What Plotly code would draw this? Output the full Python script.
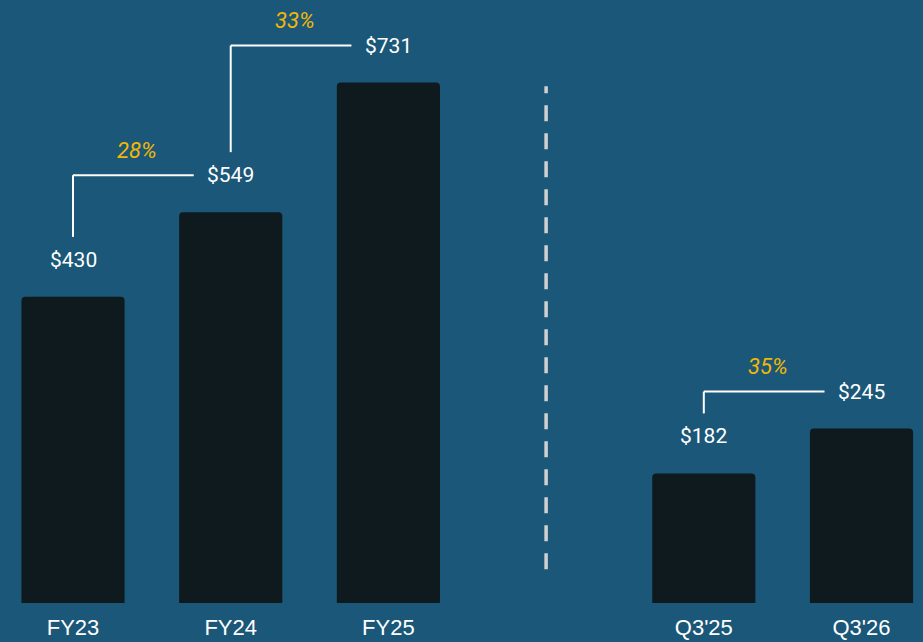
import plotly.graph_objects as go

# ---- data ----
categories = ["FY23", "FY24", "FY25", "Q3'25", "Q3'26"]
positions = [0, 1, 2, 4, 5]          # slot 3 is the gap holding the divider
values = [430, 549, 731, 182, 245]
value_labels = ["$430", "$549", "$731", "$182", "$245"]
growth_pairs = [(0, 1), (1, 2), (3, 4)]   # indices into the lists above
growth_labels = ["28%", "33%", "35%"]

# ---- layout constants ----
W, H = 923, 642
M_L, M_R, M_T, M_B = 0, 0, 0, 39
X_RANGE = [-0.463, 5.39]
Y_RANGE = [0, 847]
BG = "#1a5778"
BAR = "#0f1a1f"
GOLD = "#f2b705"

plot_w = W - M_L - M_R
plot_h = H - M_T - M_B
px_x = plot_w / (X_RANGE[1] - X_RANGE[0])   # px per category unit
px_y = plot_h / (Y_RANGE[1] - Y_RANGE[0])   # px per value unit


def dx(p):
    return p / px_x


def dy(p):
    return p / px_y


fig = go.Figure()
fig.add_trace(go.Bar(
    x=positions, y=values, width=0.654,
    marker=dict(color=BAR, line=dict(width=0), cornerradius=4),
    hoverinfo="skip",
))

annotations = []
shapes = []

LABEL_OFF = 37
for p, v, t in zip(positions, values, value_labels):
    annotations.append(dict(
        x=p, y=v + dy(LABEL_OFF), text=t, showarrow=False,
        xanchor="center", yanchor="middle",
        font=dict(family="Roboto", size=21, color="white"),
    ))

for (a, b), g in zip(growth_pairs, growth_labels):
    xa, xb = positions[a], positions[b]
    y0 = values[a] + dy(60)
    y1 = values[b] + dy(LABEL_OFF)
    xend = xb - dx(37)
    line = dict(color="white", width=2)
    shapes.append(dict(type="line", xref="x", yref="y", x0=xa, x1=xa,
                       y0=y0, y1=y1, line=line))
    shapes.append(dict(type="line", xref="x", yref="y", x0=xa, x1=xend,
                       y0=y1, y1=y1, line=line))
    annotations.append(dict(
        x=(xa + xend) / 2 + dx(4), y=y1 + dy(25), text="<i>" + g + "</i>",
        showarrow=False, xanchor="center", yanchor="middle",
        font=dict(family="Roboto", size=22, color=GOLD),
    ))

# divider between annual and quarterly groups
shapes.append(dict(type="line", xref="x", yref="paper", x0=3, x1=3,
                   y0=0.056, y1=0.857,
                   line=dict(color="#d0d0d0", width=3.5, dash="16px,12px")))

fig.update_layout(
    width=W, height=H,
    margin=dict(l=M_L, r=M_R, t=M_T, b=M_B, pad=0),
    paper_bgcolor=BG, plot_bgcolor=BG,
    showlegend=False,
    annotations=annotations,
    shapes=shapes,
    xaxis=dict(range=X_RANGE, tickvals=positions, ticktext=categories,
               showgrid=False, zeroline=False, showline=False, ticks="",
               ticklabelstandoff=9,
               tickfont=dict(family="Liberation Sans", size=22, color="white"),
               fixedrange=True),
    yaxis=dict(range=Y_RANGE, visible=False, showgrid=False, zeroline=False,
               fixedrange=True),
)

fig.write_html("out.html")
